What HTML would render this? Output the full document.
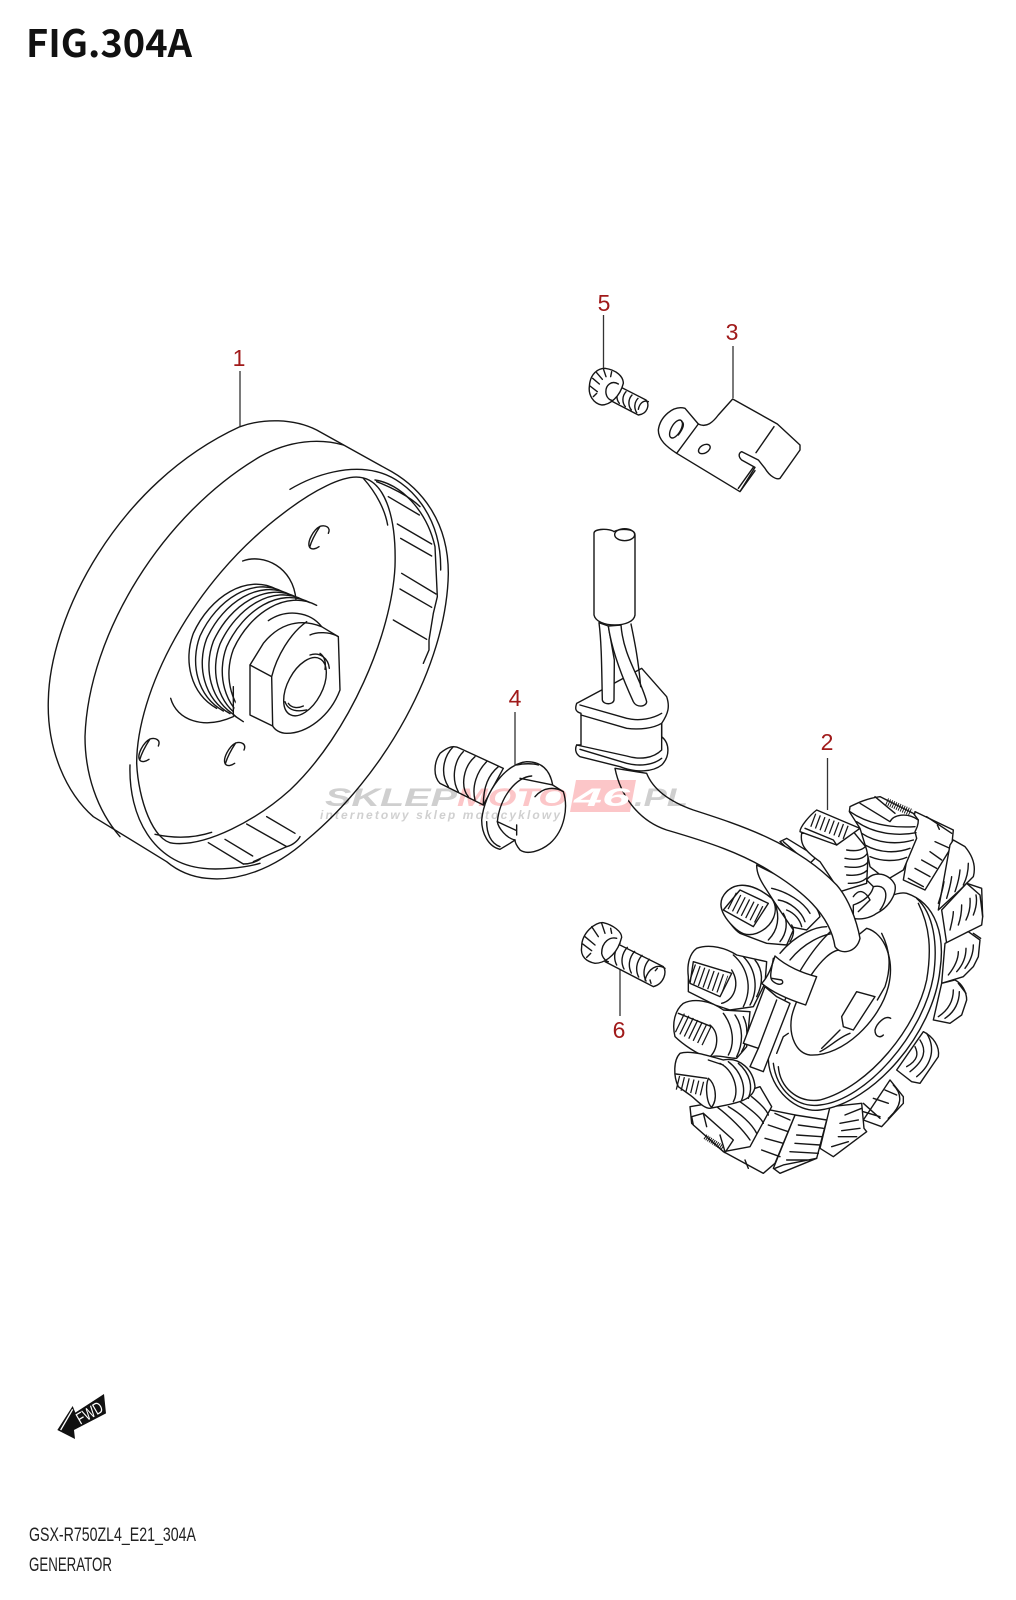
<!DOCTYPE html>
<html><head><meta charset="utf-8"><title>FIG.304A</title>
<style>
html,body{margin:0;padding:0;background:#fff}
svg{display:block}
.l{fill:none;stroke:#161616;stroke-width:4.2;stroke-linecap:round;stroke-linejoin:round}
.w{fill:#fff}
.h{fill:none;stroke-width:40;stroke-dasharray:3.8 11;stroke-linecap:butt}
.n{font:23px "Liberation Sans",sans-serif;fill:#a01a1a;text-anchor:middle}
</style></head><body>
<svg width="1016" height="1600" viewBox="0 0 1016 1600" xmlns="http://www.w3.org/2000/svg">
<defs>
<path id="th" d="M740,568 C650,520 540,590 490,700 C460,780 480,880 560,925"/>
<path id="k" d="M30,8 C38,-10 22,-18 5,-13 C-15,-3 -35,35 -26,50 C-20,58 -8,55 2,48 M5,-13 C-10,10 -22,35 -26,50"/>
</defs>

<!-- Title -->
<text x="26" y="57" font-family="'Noto Sans CJK JP','Liberation Sans',sans-serif" font-weight="700" font-size="38" textLength="166" lengthAdjust="spacingAndGlyphs" fill="#111">FIG.304A</text>

<!-- Flywheel (1) -->
<g class="l" transform="translate(30 400) scale(.33333)">
<path d="M410,1385 L190,1250 C110,1180 50,1050 55,900 C60,650 260,250 630,80 C700,55 790,55 860,90 L1085,215 C1180,270 1255,370 1255,520 C1250,800 1060,1130 830,1320 C730,1410 620,1445 530,1435 C480,1430 440,1410 410,1385Z"/>
<path d="M270,1310 C200,1230 165,1120 165,1010 C175,700 400,340 690,170 C780,120 870,115 940,135"/>
<path d="M780,268 C860,220 960,195 1040,215 C1140,240 1235,350 1232,510"/>
<path d="M300,1095 C295,1250 370,1390 520,1405 C560,1410 640,1405 690,1390"/>
<path d="M320,1090 C320,880 480,550 760,340 C850,270 940,225 990,232 C1060,240 1100,340 1095,500 C1085,700 960,1000 780,1170 C680,1260 530,1340 430,1330 C370,1325 325,1200 320,1090Z"/>
<path d="M1000,235 C1040,280 1065,330 1073,375"/>
<path d="M1035,240 C1110,250 1190,330 1215,440 L1222,590 L1210,640 L1197,720 L1197,750 L1180,790"/>
<path d="M1040,245 C1080,260 1140,290 1170,320"/>
<path d="M1075,290 L1168,345 M1102,372 L1205,432 M1112,415 L1205,468 M1115,520 L1218,582 M1110,567 L1205,622 M1090,660 L1190,718"/>
<path d="M710,1250 L795,1300 M650,1272 L770,1340 M585,1318 L668,1368 M535,1328 L640,1392"/>
<path d="M375,1303 C430,1315 490,1315 545,1297"/>
<path d="M770,1340 C790,1335 805,1320 810,1310 M770,1340 L670,1385 M640,1392 C660,1392 680,1385 690,1378"/>
<use href="#k" transform="translate(865,392)"/>
<use href="#k" transform="translate(355,1030)"/>
<use href="#k" transform="translate(612,1042)"/>
<path d="M638,483 C700,460 790,500 798,600"/>
<path d="M422,895 C440,960 520,990 610,950"/>
<use href="#th"/>
<use href="#th" transform="translate(20,8)"/>
<use href="#th" transform="translate(40,16)"/>
<use href="#th" transform="translate(60,24)"/>
<use href="#th" transform="translate(80,32)"/>
<use href="#th" transform="translate(100,40)"/>
<use href="#th" transform="translate(120,48)"/>
<path class="w" d="M610,940 L660,985 C700,1000 730,995 750,990 L800,850 L880,680 C840,640 780,620 715,665 L640,800Z" style="stroke:none"/>
<path d="M610,860 L610,945 L640,965 M715,662 C770,625 840,635 875,680"/>
<path class="w" d="M660,795 L700,730 C740,680 800,650 875,680 L925,710 L930,870 C900,950 830,1000 770,1000 C750,1000 735,990 728,978 L660,945Z"/>
<path d="M660,795 L725,830 L728,978 M725,830 C740,770 780,700 830,665"/>
<path d="M840,705 C860,695 900,695 925,710"/>
<ellipse cx="825" cy="860" rx="52" ry="95" transform="rotate(28 825 860)"/>
<path d="M840,765 C870,755 895,775 898,805 M870,760 C885,770 888,790 885,808"/>
<path d="M765,905 C775,935 805,935 830,930 M775,910 C785,925 805,925 820,918"/>
</g>

<!-- Bracket & bolt 5 -->
<g class="l" transform="translate(570 280) scale(.33333)">
<path d="M265,450 C270,410 310,375 345,385 L385,432 C410,445 430,425 445,405 L488,357 L622,432 L690,495 L690,510 L630,595 C620,600 600,590 585,565 L565,540 L515,515 C505,520 505,530 515,540 L555,562 L510,635 L320,520 C290,500 265,480 265,450Z"/>
<path d="M385,432 L320,520 M612,440 L558,518 M550,562 L505,625 M555,572 L512,632"/>
<ellipse cx="318" cy="447" rx="14" ry="30" transform="rotate(30 318 447)"/>
<path d="M335,425 C345,430 340,445 325,465"/>
<ellipse cx="403" cy="507" rx="19" ry="12" transform="rotate(-30 403 507)"/>
<path class="w" d="M130,310 L228,360 C240,375 232,402 205,405 L115,358Z"/>
<path d="M150,325 C138,338 138,358 148,370 M168,335 C156,348 156,368 166,380 M186,345 C174,358 174,378 184,390 M204,355 C192,368 192,385 200,398 M235,365 C220,358 208,372 205,388"/>
<path class="w" d="M58,320 C60,280 85,265 105,265 C140,270 160,290 160,310 C150,350 120,375 95,375 C70,370 55,345 58,320Z"/>
<path d="M68,295 L88,312 M80,278 L97,298 M100,266 L108,290 M125,275 L122,290 M60,318 L82,335 M70,350 L80,340"/>
<path d="M108,340 C105,315 125,300 145,312 M108,340 C110,352 118,360 128,362"/>
</g>

<!-- Stator -->
<g class="l" transform="translate(640 770) scale(.33333)">
<path class="w" d="M790,330 L825,125 L940,180 L935,230 L855,360Z"/>
<path d="M860,140 L935,190 M885,215 L930,235 M870,245 L905,270 M845,270 L890,295 M825,295 L870,320 M805,325 L850,350 M892,165 L898,178"/>
<path class="w" d="M895,420 L930,225 L940,210 L975,230 C1000,260 1008,290 1000,320 L960,360Z"/>
<path d="M895,400 C902,380 908,360 912,335 M920,385 C926,365 932,345 935,320 M945,365 C952,345 958,325 960,300 M970,345 C980,325 985,305 985,280"/>
<path class="w" d="M905,420 L980,340 L1025,355 L1028,440 L1025,465 L985,485 L920,520Z"/>
<path d="M980,340 L1020,375 L1028,440 M930,480 C935,460 940,440 940,425 M955,465 C962,445 965,425 965,405 M978,450 C988,430 992,410 990,385 M1000,435 C1008,415 1012,395 1008,375"/>
<path class="w" d="M915,520 L985,485 L1020,510 L1015,560 L1000,590 L970,620 L905,640Z"/>
<path d="M1000,490 L1022,505 M925,615 C945,590 955,565 955,545 M950,605 C968,585 978,560 978,535 M975,595 C990,575 1000,550 1000,525"/>
<path class="w" d="M905,640 L945,630 C965,640 980,665 980,690 L965,735 L930,760 L880,750Z"/>
<path d="M955,640 L978,670 M895,740 C925,720 940,695 940,660 M915,745 C945,725 958,695 958,665"/>
<path class="w" d="M770,900 L850,785 C880,800 900,830 895,860 L840,940 L815,935Z"/>
<path d="M860,790 C885,830 880,880 830,920 M840,810 C860,840 855,870 810,905 M825,830 C835,850 835,870 800,890"/>
<path class="w" d="M670,1050 L750,930 L790,980 L790,1000 L725,1070Z"/>
<path d="M760,945 C790,975 785,1010 745,1045 M735,960 L770,975 M700,985 L745,1000 M670,1000 L720,1045 M670,1025 L720,1040"/>
<path class="w" d="M540,1135 L570,1010 L665,1000 L672,1075 L680,1085 L580,1160Z"/>
<path d="M615,1035 L665,1015 M600,1060 L655,1050 M595,1100 L650,1100 M575,1130 L625,1115 M605,1082 L660,1075"/>
<path class="w" d="M400,1195 L465,1035 L560,1050 L530,1165 L420,1210Z"/>
<path d="M475,1065 L550,1075 M470,1095 L545,1100 M465,1120 L540,1125 M450,1145 L535,1150 M440,1170 L515,1170 M405,1195 L430,1185 L530,1165"/>
<path class="w" d="M250,1145 L390,1020 L465,1035 L405,1180 L370,1210Z"/>
<path d="M405,1030 L450,1050 M385,1065 L445,1085 M375,1105 L430,1120 M365,1140 L420,1160 M315,1170 L325,1195"/>

<path class="w" d="M150,1010 L210,1000 L360,950 L395,1010 L330,1130 L250,1145 L155,1060Z"/>
<path d="M230,1010 C270,1040 310,1080 330,1110 M265,1010 C300,1030 335,1060 350,1090 M300,995 C335,1020 365,1045 370,1060 M335,980 C360,1000 380,1020 385,1035"/>
<path class="w" d="M155,1040 L190,1030 L280,1110 L255,1148 L245,1140 L160,1065Z"/>
<line class="h" x1="195" y1="1100" x2="250" y2="1135" style="stroke-width:16;stroke-dasharray:3 3"/>
<path d="M190,1030 L200,1070 M240,1095 L255,1145"/>

<path class="w" d="M800,370 C890,400 915,500 900,600 C880,790 700,1000 540,1020 C470,1030 390,960 385,870 C385,750 520,480 640,440 C700,410 760,360 800,370Z"/>
<path d="M830,385 C880,430 895,520 880,620 C850,790 680,990 540,1005 C470,1015 410,960 400,880"/>
<path d="M835,400 C870,470 875,540 860,630 C830,770 690,950 540,990 C470,1000 420,950 415,890"/>
<path class="w" d="M680,475 C735,490 765,570 745,650 C720,750 610,860 510,855 C470,850 445,800 455,740 C470,670 550,540 600,540Z"/>
<path d="M725,490 C750,540 755,590 735,650 L712,690"/>
<path class="w" d="M650,665 L705,680 L640,780 L610,770 L605,740Z"/>
<path d="M630,790 C600,800 570,830 540,845 M600,780 C580,800 560,820 545,835"/>
<path d="M752,745 C735,735 710,760 705,780 C705,800 720,805 730,795"/>
<path d="M410,850 L430,800 L445,790"/>

<path class="w" d="M420,215 L440,205 L530,260 L500,290Z"/>
<path d="M430,215 L505,280"/>

<path class="w" d="M350,285 L420,320 C480,350 530,400 540,440 L500,480 L450,470 L380,360 C360,330 350,310 350,285Z"/>
<path d="M395,355 C440,365 490,395 510,430 M415,390 C450,395 485,425 495,455 M440,420 C465,430 480,450 485,470"/>
<path class="w" d="M260,365 C290,335 340,340 395,385 L460,480 L440,525 L380,520 L300,490 C270,470 225,400 260,365Z"/>
<path d="M405,400 C420,440 415,480 385,510 M430,430 C445,455 440,490 420,515 M455,465 C465,480 460,500 450,515"/>
<path class="w" d="M260,365 C290,335 340,340 395,385 C420,420 400,470 350,490 C320,500 300,490 280,470 C250,440 225,400 260,365Z"/>
<path class="w" d="M250,420 L300,360 L385,400 L340,470Z"/>
<line class="h" x1="275" y1="392" x2="362" y2="436" style="stroke-width:55"/>

<path class="w" d="M485,190 C480,220 490,240 540,275 L600,365 L680,340 L685,240 L640,185Z"/>
<path d="M620,240 C650,245 670,240 680,225 M615,265 C650,272 672,265 682,250 M615,290 C650,295 672,290 682,278 M620,315 C650,318 670,312 680,302 M625,340 C650,340 668,335 678,325"/>
<path class="w" d="M530,120 L660,175 L590,225 L480,185 C480,170 510,135 530,120Z"/>
<line class="h" x1="518" y1="150" x2="625" y2="190" style="stroke-width:42"/>
<path d="M495,175 L580,210 L590,225"/>
<path class="w" d="M630,110 C650,100 680,85 720,80 L820,130 L835,150 C835,165 830,175 825,185 L830,205 L790,300 L740,330 L690,290 L680,240 L660,175 L628,125Z"/>
<line class="h" x1="740" y1="95" x2="815" y2="128" style="stroke-width:22;stroke-dasharray:2.8 4"/>
<path d="M660,100 L750,155 C760,135 800,125 835,150 M705,80 L765,130"/>
<path d="M630,125 C680,160 750,175 825,170 M650,155 C700,190 770,200 828,188 M665,190 C710,220 770,225 820,210 M675,225 C720,250 770,250 810,235 M690,260 C725,275 770,275 800,262"/>

<path class="w" d="M170,535 C210,520 260,535 290,555 L380,575 L375,640 L340,710 L270,720 L225,705 L145,665 L145,620 C140,580 150,550 170,535Z"/>
<path d="M280,555 C320,590 340,650 310,710 M310,560 C350,600 355,660 330,705 M345,570 C370,600 370,640 350,680"/>
<path class="w" d="M160,575 L275,610 L240,680 L150,640Z"/>
<line class="h" x1="155" y1="610" x2="255" y2="645" style="stroke-width:58"/>
<path d="M275,600 C300,640 285,690 245,700"/>

<path class="w" d="M130,700 C160,685 210,690 250,720 L330,725 L320,830 L290,865 C260,865 225,850 205,865 C170,850 130,825 105,800 C95,760 105,720 130,700Z"/>
<path d="M250,730 C280,770 285,820 265,855 M285,735 C310,770 310,820 290,860 M310,740 C325,770 325,810 305,845"/>
<line class="h" x1="118" y1="758" x2="205" y2="800" style="stroke-width:62"/>
<path d="M115,730 L215,770 M210,765 C240,790 235,840 205,865"/>

<path class="w" d="M120,850 C150,840 200,855 250,870 C300,860 340,900 345,950 C340,990 290,1000 235,1010 L210,1015 C190,1015 170,990 150,975 L115,950 C100,920 100,870 120,850Z"/>
<line class="h" x1="112" y1="938" x2="195" y2="958" style="stroke-width:42"/>
<path d="M108,912 L200,925 M205,925 C225,940 235,985 215,1012 C200,1000 195,950 205,925"/>
<path d="M240,880 C280,900 300,960 280,995 M265,875 C305,905 320,955 305,990 M295,880 C330,910 340,950 325,985 M250,885 L205,870"/>

<path d="M420,550 C470,490 530,470 560,470 M450,570 C490,520 550,490 590,490"/>
<path class="w" d="M680,330 C700,300 750,310 765,345 C770,370 750,410 710,430 C690,445 660,450 640,445 L640,405 C670,395 695,375 700,350Z"/>
<path d="M700,350 C740,340 750,380 720,420 M640,380 C660,350 680,370 690,390 L655,425"/>
<path class="w" d="M375,650 L310,820 L355,835 L330,890 L370,905 L450,700 L410,680Z"/>
<path d="M410,690 L355,835"/>
<path class="w" d="M405,558 C440,590 490,610 530,620 L497,705 C450,690 400,670 365,640 C385,620 395,590 405,558Z"/>
<path d="M395,625 L425,630 C435,640 420,650 400,635 C385,625 395,600 400,565"/>

<path class="w" d="M20,10 C40,60 90,95 160,120 C300,165 470,220 590,345 C625,385 650,450 660,505 C650,550 600,555 585,530 C570,430 480,360 400,310 C310,250 200,215 80,180 C-10,150 -60,70 -75,-5Z"/>
</g>

<!-- Grommet, harness, bolt 4 -->
<g class="l" transform="translate(420 500) scale(.33333)">
<path class="w" d="M665,505 L740,590 C750,620 745,640 725,670 L725,710 C750,730 750,770 725,795 C700,815 650,820 600,800 L480,770 C465,760 465,745 470,735 L483,735 L483,640 C465,635 465,625 470,610 L545,570Z"/>
<path d="M480,615 L620,655 C660,665 700,655 725,640 M483,645 L620,685 C660,690 700,685 725,670 L725,750 C700,775 660,780 620,768 L470,735 M480,748 L620,790 C660,800 700,795 725,775"/>
<path class="w" d="M537,368 C545,430 545,510 547,600 C550,615 580,615 582,600 L583,480 L565,378Z"/>
<path class="w" d="M565,378 C575,450 610,540 640,605 C650,625 680,620 680,605 C660,530 610,470 603,375Z"/>
<path d="M633,372 C645,430 655,480 662,560"/>
<path class="w" d="M522,100 C522,85 570,85 582,95 C600,85 645,85 645,105 L645,345 C640,385 530,385 522,345Z"/>
<ellipse cx="614" cy="104" rx="30" ry="18"/>
<path class="w" d="M250,805 L120,745 C100,735 85,740 60,760 C40,790 40,830 60,850 L190,915Z"/>
<path d="M100,740 C70,770 60,820 85,860 M130,755 C100,785 95,840 115,875 M165,770 C130,800 120,860 145,890 M200,785 C170,815 155,860 165,900 M235,800 C205,825 190,860 190,915"/>
<path class="w" d="M185,960 C195,870 260,790 320,785 C365,785 390,810 398,855 L430,875 C445,920 435,990 390,1030 C360,1055 320,1065 300,1050 C292,1040 285,1030 285,1020 L270,1030 L240,1048 C205,1040 185,1000 185,960Z"/>
<path d="M200,965 C200,1000 212,1030 240,1040 M290,795 C310,790 340,790 355,795"/>
<path d="M232,965 C240,890 290,830 335,828 M300,835 L398,855 M345,890 C370,860 405,860 430,875"/>
<path d="M232,965 L290,992 M290,975 L290,1005 M232,965 C235,985 260,1015 285,1020"/>
</g>

<!-- Leaders -->
<g stroke="#333" stroke-width="1.3" fill="none">
<line x1="240" y1="371" x2="240" y2="426"/>
<line x1="603.5" y1="315" x2="603.5" y2="368"/>
<line x1="733" y1="346" x2="733" y2="398"/>
<line x1="515" y1="712" x2="515" y2="766"/>
<line x1="827.5" y1="758" x2="827.5" y2="810"/>
<line x1="620" y1="968" x2="620" y2="1016"/>
</g>
<!-- Bolt 6 -->
<g class="l" transform="translate(570 900) scale(.33333)">
<path class="w" d="M110,115 L280,200 C292,215 282,252 250,260 L105,185Z"/>
<path d="M150,130 C132,150 130,175 140,195 M172,142 C154,162 152,187 162,207 M194,154 C176,174 174,199 184,219 M216,166 C198,186 196,211 206,231 M238,178 C220,198 218,223 228,243 M285,205 C262,190 235,205 225,240 M262,205 L256,212 M240,240 L243,250"/>
<path class="w" d="M35,140 C35,100 75,65 100,68 C130,75 155,95 155,112 L150,128 C135,170 100,190 75,190 C50,185 30,170 35,140Z"/>
<path d="M45,110 L75,135 M65,80 L85,110 M95,70 L105,100 M122,85 L125,100 M38,132 L65,152 M50,172 L62,160"/>
<path d="M95,160 C95,125 120,110 140,115 M95,160 C98,175 110,185 115,185"/>
</g>
<!-- Numbers -->
<text class="n" x="239" y="366">1</text>
<text class="n" x="604" y="311">5</text>
<text class="n" x="732" y="340">3</text>
<text class="n" x="515" y="706">4</text>
<text class="n" x="827" y="750">2</text>
<text class="n" x="619" y="1038">6</text>

<!-- FWD arrow -->
<g transform="translate(0 1370) scale(.33333)">
<path d="M172,180 L218,108 L226,128 L312,72 L318,130 L222,180 L225,207Z" fill="#111"/>
<path d="M182,180 L218,118" stroke="#fff" stroke-width="4" fill="none"/>
<text x="268" y="146" transform="rotate(-30 268 128)" font-family="'Liberation Sans',sans-serif" font-size="50" fill="#fff" text-anchor="middle" textLength="84" lengthAdjust="spacingAndGlyphs">FWD</text>
</g>

<!-- Bottom labels -->
<text x="29" y="1541" font-family="'Liberation Sans',sans-serif" font-size="19" fill="#222" textLength="167" lengthAdjust="spacingAndGlyphs">GSX-R750ZL4_E21_304A</text>
<text x="29" y="1571" font-family="'Liberation Sans',sans-serif" font-size="19" fill="#222" textLength="83" lengthAdjust="spacingAndGlyphs">GENERATOR</text>

<!-- Watermark -->
<g style="mix-blend-mode:multiply" font-family="'Liberation Sans',sans-serif" font-weight="700" font-style="italic">
<path d="M576,780 L636,780 L630,812 L570,812Z" fill="#fcc6c8"/>
<text x="325" y="806" font-size="25" fill="#cfcfcf" textLength="132" lengthAdjust="spacingAndGlyphs">SKLEP</text>
<text x="457" y="806" font-size="25" fill="#fcc6c8" textLength="110" lengthAdjust="spacingAndGlyphs">MOTO</text>
<text x="634" y="806" font-size="25" fill="#cfcfcf" textLength="54" lengthAdjust="spacingAndGlyphs">.PL</text>
<text x="320" y="819" font-size="12" fill="#d0d0d0" textLength="240" lengthAdjust="spacing">internetowy sklep motocyklowy</text>
</g>
<text x="574" y="806" font-family="'Liberation Sans',sans-serif" font-weight="700" font-style="italic" font-size="25" fill="#fff" textLength="56" lengthAdjust="spacingAndGlyphs">46</text>
</svg>
</body></html>
